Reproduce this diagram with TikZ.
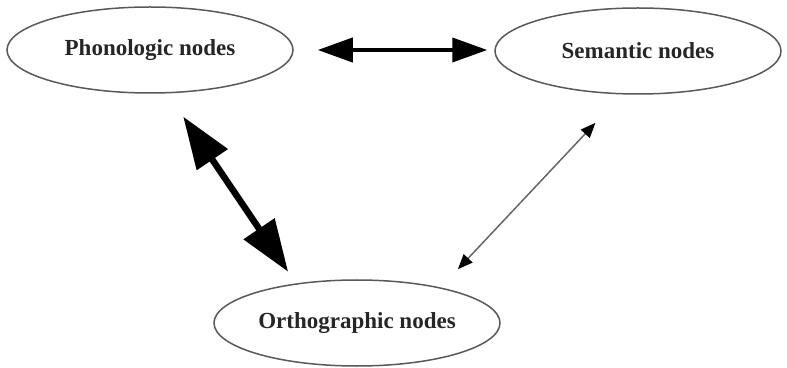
\documentclass[tikz,border=0pt]{standalone}
\usepackage{fontspec}
\setmainfont{Liberation Serif}
\usetikzlibrary{shapes.geometric,arrows.meta}
\colorlet{ring edge}{black!65}
\colorlet{label ink}{black!85}
\tikzset{
  concept/.style={ellipse, draw=ring edge, line width=1.5pt, minimum width=286pt,
    minimum height=86pt, inner sep=0pt, text=label ink,
    font=\fontsize{23}{27}\selectfont\bfseries},
  boldlink/.style={line width=6.5pt, {Triangle[length=52pt,width=36pt]}-{Triangle[length=52pt,width=36pt]}},
  midlink/.style={line width=4pt, {Triangle[length=35pt,width=24pt]}-{Triangle[length=35pt,width=24pt]}},
  faintlink/.style={draw=black!60, line width=1.5pt,
    {Triangle[length=15pt,width=12pt,fill=black,color=black]}-{Triangle[length=15pt,width=12pt,fill=black,color=black]}}
  }

\begin{document}
\begin{tikzpicture}[x=1pt,y=1pt]
  \useasboundingbox (0,0) rectangle (787,367);

  \foreach \pos/\name/\word in {{(150,317)/phon/Phonologic}, {(638,316)/sem/Semantic}, {(357,44)/orth/Orthographic}} {
    \node[concept] (\name) at \pos {\word{} nodes};
  }

  \draw[midlink, shorten <=24pt, shorten >=7pt] (phon.east) -- (sem.west |- phon.east);
  \draw[boldlink, shorten <=28pt, shorten >=14pt] (phon.-68) -- (orth.147);
  \draw[faintlink, shorten <=39pt, shorten >=25pt] (sem.-110) -- (orth.23);
\end{tikzpicture}
\end{document}
